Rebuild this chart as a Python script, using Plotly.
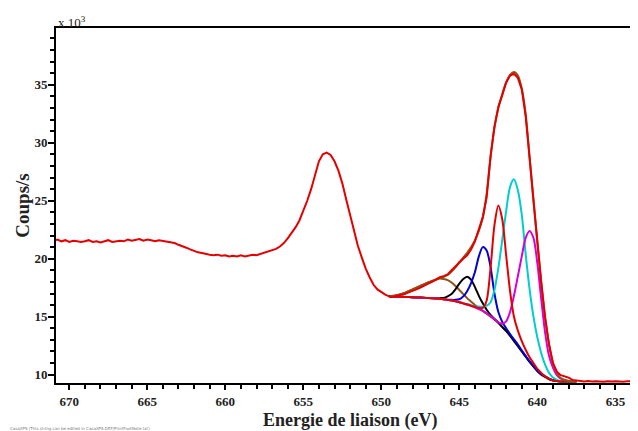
import plotly.graph_objects as go

# ---------------- data (binding energy in eV, counts/s in units of 10^3) ----------------
data_E = [671.0, 670.75, 670.5, 670.25, 670.0, 669.75, 669.5, 669.25, 669.0, 668.75, 668.5, 668.25,
          668.0, 667.75, 667.5, 667.25, 667.0, 666.75, 666.5, 666.25, 666.0, 665.75, 665.5, 665.25,
          665.0, 664.75, 664.5, 664.25, 664.0, 663.75, 663.5, 663.25, 663.0, 662.75, 662.5, 662.25,
          662.0, 661.75, 661.5, 661.25, 661.0, 660.75, 660.5, 660.25, 660.0, 659.75, 659.5, 659.25,
          659.0, 658.75, 658.5, 658.25, 658.0, 657.75, 657.5, 657.25, 657.0, 656.75, 656.5, 656.25,
          656.0, 655.75, 655.5, 655.25, 655.0, 654.75, 654.5, 654.25, 654.0, 653.75, 653.5, 653.25,
          653.0, 652.75, 652.5, 652.25, 652.0, 651.75, 651.5, 651.25, 651.0, 650.75, 650.5, 650.25,
          650.0, 649.75, 649.5, 649.25, 649.0, 648.75, 648.5, 648.25, 648.0, 647.75, 647.5, 647.25,
          647.0, 646.75, 646.5, 646.25, 646.0, 645.75, 645.5, 645.25, 645.0, 644.75, 644.5, 644.25,
          644.0, 643.75, 643.5, 643.25, 643.0, 642.75, 642.5, 642.25, 642.0, 641.75, 641.5, 641.25,
          641.0, 640.75, 640.5, 640.25, 640.0, 639.75, 639.5, 639.25, 639.0, 638.75, 638.5, 638.25,
          638.0, 637.75, 637.5, 637.25, 637.0, 636.75, 636.5, 636.25, 636.0, 635.75, 635.5, 635.25,
          635.0, 634.75, 634.5, 634.25, 634.0, 633.75, 633.5]
data_counts = [21.55, 21.65, 21.5, 21.6, 21.45, 21.55, 21.5, 21.45, 21.5, 21.6, 21.45, 21.5,
               21.4, 21.5, 21.6, 21.45, 21.5, 21.55, 21.5, 21.65, 21.55, 21.6, 21.7, 21.55,
               21.65, 21.6, 21.5, 21.6, 21.55, 21.5, 21.4, 21.35, 21.2, 21.1, 20.95, 20.8,
               20.65, 20.55, 20.5, 20.4, 20.35, 20.3, 20.35, 20.25, 20.3, 20.2, 20.25, 20.2,
               20.3, 20.2, 20.25, 20.35, 20.3, 20.4, 20.5, 20.6, 20.7, 20.85, 21.05, 21.35,
               21.75, 22.2, 22.7, 23.3, 24.1, 25.0, 26.0, 27.3, 28.4, 29.0, 29.15, 28.95,
               28.4, 27.6, 26.5, 25.1, 23.7, 22.4, 21.1, 20.1, 19.15, 18.4, 17.75, 17.35,
               17.1, 16.9, 16.75, 16.7, 16.8, 16.85, 16.95, 17.1, 17.2, 17.35, 17.5, 17.7,
               17.85, 18.0, 18.2, 18.4, 18.5, 18.65, 19.0, 19.35, 19.7, 20.0, 20.3, 20.8,
               21.5, 22.6, 23.6, 25.3, 28.8, 31.4, 33.1, 34.1, 35.2, 35.8, 35.95, 35.6,
               34.6, 32.3, 28.6, 24.8, 21.3, 17.9, 14.9, 12.6, 11.0, 10.25, 9.95, 9.85,
               9.75, 9.55, 9.5, 9.45, 9.42, 9.45, 9.4, 9.44, 9.42, 9.38, 9.43, 9.4,
               9.44, 9.41, 9.38, 9.43, 9.4, 9.42, 9.4]

comp_E = [649.5, 649.0, 648.5, 648.0, 647.5, 647.0, 646.5, 646.25, 646.0, 645.75, 645.5, 645.25,
          645.0, 644.75, 644.5, 644.25, 644.0, 643.75, 643.5, 643.25, 643.0, 642.75, 642.5, 642.25,
          642.0, 641.75, 641.5, 641.25, 641.0, 640.75, 640.5, 640.25, 640.0, 639.75, 639.5, 639.25,
          639.0, 638.75, 638.5, 638.0, 637.5]

envelope = [16.75, 16.85, 17.05, 17.35, 17.65, 17.95, 18.2, 18.35, 18.45, 18.6, 18.9, 19.25,
            19.7, 20.1, 20.5, 21.0, 21.6, 22.4, 23.5, 25.6, 28.8, 31.3, 33.0, 34.2,
            35.2, 35.85, 36.1, 35.8, 34.7, 32.5, 28.8, 25.0, 21.4, 18.0, 14.9, 12.6,
            11.0, 10.2, 9.7, 9.45, 9.4]
satellite = [16.75, 16.85, 17.05, 17.35, 17.65, 17.95, 18.2, 18.3, 18.25, 18.15, 17.95, 17.65,
             17.3, 16.95, 16.6, 16.3, 16.0, 15.75, 15.5, 15.25, 15.0, 14.75, 14.45, 14.1,
             13.75, 13.35, 12.9, 12.45, 12.0, 11.55, 11.1, 10.7, 10.3, 10.0, 9.8, 9.6,
             9.5, 9.45, 9.42, 9.4, 9.4]
peak_black = [16.75, 16.72, 16.7, 16.68, 16.65, 16.62, 16.6, 16.6, 16.62, 16.75, 16.95, 17.35,
              17.85, 18.25, 18.45, 18.2, 17.55, 16.8, 16.15, 15.6, 15.15, 14.8, 14.5, 14.12,
              13.77, 13.37, 12.92, 12.47, 12.02, 11.57, 11.12, 10.72, 10.32, 10.02, 9.82, 9.62,
              9.52, 9.46, 9.43, 9.41, 9.4]
peak_blue = [16.75, 16.72, 16.7, 16.68, 16.65, 16.62, 16.57, 16.55, 16.5, 16.47, 16.45, 16.45,
             16.5, 16.75, 17.2, 17.9, 18.85, 20.2, 21.0, 20.7, 19.3, 17.0, 15.4, 14.55,
             14.0, 13.5, 13.05, 12.6, 12.1, 11.6, 11.15, 10.75, 10.35, 10.05, 9.85, 9.65,
             9.52, 9.46, 9.43, 9.41, 9.4]
peak_red = [16.75, 16.72, 16.7, 16.68, 16.65, 16.62, 16.57, 16.55, 16.5, 16.45, 16.4, 16.33,
            16.25, 16.15, 16.05, 15.95, 15.85, 15.75, 15.75, 16.4, 19.2, 22.9, 24.6, 23.4,
            20.3, 17.2, 15.0, 13.8, 12.9, 12.15, 11.5, 11.0, 10.5, 10.15, 9.85, 9.65,
            9.5, 9.45, 9.42, 9.4, 9.4]
peak_cyan = [16.75, 16.72, 16.7, 16.68, 16.65, 16.62, 16.57, 16.55, 16.5, 16.45, 16.4, 16.33,
             16.25, 16.15, 16.1, 16.0, 15.9, 15.87, 15.85, 15.95, 16.25, 17.3, 19.2, 21.6,
             24.1, 26.2, 26.85, 25.9, 23.8, 20.4, 17.4, 15.0, 13.2, 11.85, 10.85, 10.15,
             9.75, 9.55, 9.45, 9.4, 9.4]
peak_magenta = [16.75, 16.72, 16.7, 16.68, 16.65, 16.62, 16.57, 16.55, 16.5, 16.45, 16.4, 16.33,
                16.25, 16.15, 16.05, 15.93, 15.8, 15.65, 15.5, 15.3, 15.05, 14.8, 14.5, 14.4,
                14.6, 15.4, 16.8, 18.5, 20.2, 21.8, 22.4, 21.8, 19.6, 16.5, 13.6, 11.6,
                10.6, 9.95, 9.65, 9.45, 9.4]

x_ticks = [670, 665, 660, 655, 650, 645, 640, 635]
y_ticks = [10, 15, 20, 25, 30, 35]

# ---------------- figure ----------------
RED = "rgb(228,0,0)"
BROWN = "rgb(140,85,25)"
fig = go.Figure()

def comp(y, color):
    fig.add_trace(go.Scatter(x=comp_E, y=y, mode="lines",
                             line=dict(color=color, width=2, shape="spline", smoothing=0.8),
                             hoverinfo="skip", showlegend=False))

comp(satellite, BROWN)
comp(peak_black, "black")
comp(peak_blue, "rgb(0,0,215)")
comp(peak_cyan, "rgb(0,205,205)")
comp(peak_magenta, "rgb(215,0,215)")
comp(peak_red, RED)
comp(envelope, BROWN)

fig.add_trace(go.Scatter(x=data_E, y=data_counts, mode="lines", line=dict(color=RED, width=2),
                         showlegend=False))

serif = "Liberation Serif, Times New Roman, serif"
# the page body adds an 8px offset, so the figure is 8px smaller than the window
fig.update_layout(
    width=630, height=423,
    margin=dict(l=48, r=0, t=20, b=48, autoexpand=False),
    paper_bgcolor="white", plot_bgcolor="white",
    showlegend=False,
    xaxis=dict(range=[670.85, 633.55], tickvals=x_ticks, ticks="outside", ticklen=5, tickwidth=2,
               tickcolor="black", showline=True, linewidth=2, linecolor="black", mirror=True,
               showgrid=False, zeroline=False,
               minor=dict(ticks="outside", dtick=1, ticklen=4, tickwidth=2, tickcolor="black", showgrid=False),
               tickfont=dict(family=serif, size=13, color="#222", weight="bold")),
    yaxis=dict(range=[9.28, 39.9], tickvals=y_ticks, ticks="outside", ticklen=6, tickwidth=2,
               tickcolor="black", showline=True, linewidth=2, linecolor="black",
               showgrid=False, zeroline=False, ticklabelstandoff=-2,
               minor=dict(ticks="outside", dtick=1, ticklen=4, tickwidth=2, tickcolor="black", showgrid=False),
               tickfont=dict(family=serif, size=13, color="#222", weight="bold"),
               title=dict(text="Coups/s", standoff=0,
                          font=dict(family=serif, size=19, color="#222", weight="bold"))),
    annotations=[
        dict(text="Energie de liaison (eV)", xref="paper", yref="paper", x=0.505, y=0,
             xanchor="center", yanchor="middle", showarrow=False, yshift=-37,
             font=dict(family=serif, size=18, color="#222", weight="bold")),
        dict(text="x 10<sup>3</sup>", xref="paper", yref="paper", x=0, y=1, xanchor="left", yanchor="bottom",
             showarrow=False, font=dict(family=serif, size=13, color="#222"), xshift=0, yshift=-4),
        dict(text="CasaXPS (This string can be edited in CasaXPS.DEF/PrintFootNote.txt)", xref="paper", yref="paper",
             x=0, y=0, xanchor="left", yanchor="top", showarrow=False, xshift=-48, yshift=-41,
             font=dict(family="DejaVu Sans", size=4, color="#777")),
    ],
)

fig.write_html("out.html")
